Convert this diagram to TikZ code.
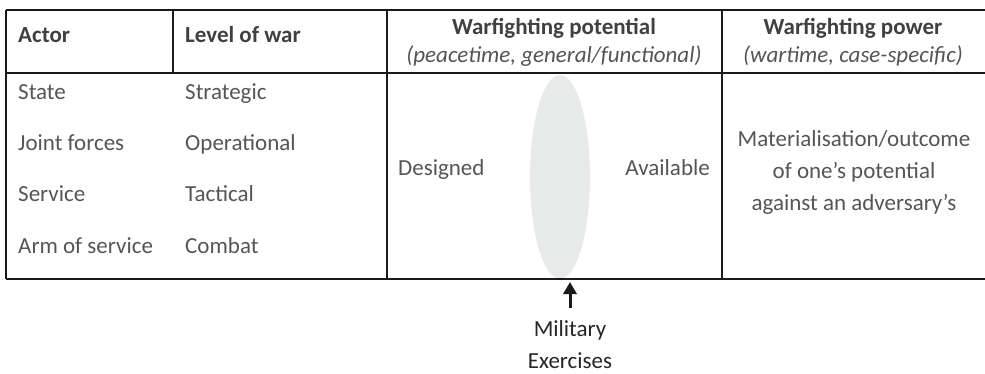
\documentclass[tikz,border=0pt]{standalone}
\usepackage{fontspec}
\setmainfont{Carlito}
\usepackage{xcolor}
\usetikzlibrary{shapes.geometric,arrows.meta}
\definecolor{txtgray}{HTML}{555555}
\definecolor{headgray}{HTML}{404040}
\definecolor{rulegray}{HTML}{1A1A1A}
\definecolor{ovalgray}{HTML}{E8E9E9}
\tikzset{
  cell/.style={text=txtgray,inner sep=0pt,font=\fontsize{23}{32}\selectfont,anchor=base west},
  head/.style={text=headgray,inner sep=0pt,font=\fontsize{23}{28}\selectfont\bfseries,anchor=base west},
  sub/.style={text=txtgray,inner sep=0pt,font=\fontsize{23}{28}\selectfont\itshape,anchor=base},
  rule/.style={draw=rulegray,line width=2.6pt},
  pointer/.style={draw=black!90,line width=3pt,-{Triangle[width=13pt,length=12pt]}}
}
\begin{document}
\begin{tikzpicture}[x=1pt,y=-1pt]
\useasboundingbox (0,0) rectangle (985,373);

\node[ellipse,fill=ovalgray,inner sep=0pt,minimum width=60pt,minimum height=204pt] (oval) at (560,177) {};

% frame
\draw[rule] (6,10) -- (985,10);
\draw[rule] (6,73) -- (985,73);
\draw[rule] (6,279) -- (985,279);
\draw[rule] (6,10) -- (6,279);
\draw[rule] (173,10) -- (173,73);
\draw[rule] (387,10) -- (387,279);
\draw[rule] (722,10) -- (722,279);

% header
\node[head] (actorHead) at (18,42) {Actor};
\node[head] (levelHead) at (185,42) {Level of war};
\node[head,anchor=base] (potHead) at (554,34) {Warfighting potential};
\node[sub] (potSub) at (554,62) {(peacetime, general/functional)};
\node[head,anchor=base] (powHead) at (853,34) {Warfighting power};
\node[sub] (powSub) at (853,62) {(wartime, case-specific)};

% body
\node[cell] (state) at (18,99) {State};
\node[cell] (joint) at (18,150) {Joint forces};
\node[cell] (service) at (18,201) {Service};
\node[cell] (arm) at (18,253) {Arm of service};
\node[cell] (strategic) at (185,99) {Strategic};
\node[cell] (operational) at (185,150) {Operational};
\node[cell] (tactical) at (185,201) {Tactical};
\node[cell] (combat) at (185,253) {Combat};

\node[cell] (designed) at (398,175) {Designed};
\node[cell,anchor=base east] (available) at (710,175) {Available};
\node[cell,anchor=center,align=center] (outcome) at (854,172) {Materialisation/outcome\\of one’s potential\\against an adversary’s};

% exercises
\coordinate (tip) at (570,282);
\node[cell,anchor=center,align=center,text=black!85] (military) at (570,345) {Military\\Exercises};
\draw[pointer,shorten <=13pt] (military.north) -- (tip);
\end{tikzpicture}
\end{document}
